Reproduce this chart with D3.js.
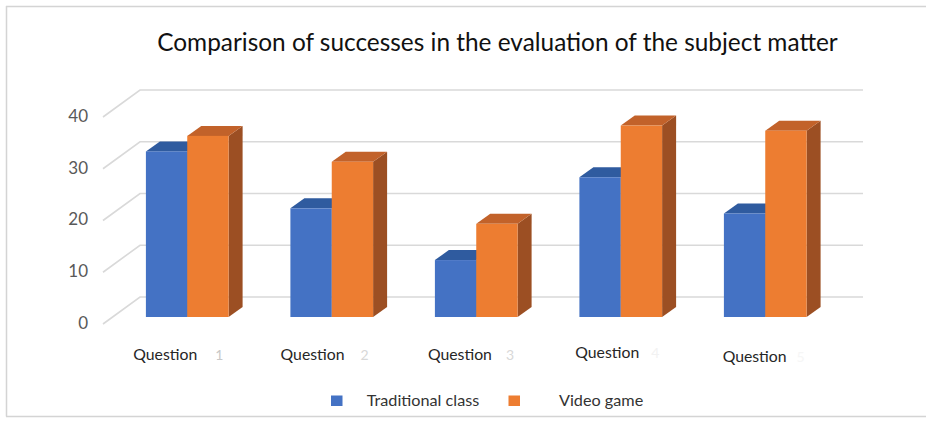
<!DOCTYPE html>
<html>
<head>
<meta charset="utf-8">
<script src="https://cdn.jsdelivr.net/npm/d3@7"></script>
<style>
  html, body { margin: 0; padding: 0; background: #fff; }
  svg { display: block; }
  text { font-family: Lato, "Open Sans", sans-serif; }
</style>
</head>
<body>
<script>
// ---- data ----
const categories = ["Question 1", "Question 2", "Question 3", "Question 4", "Question 5"];
const seriesNames = ["Traditional class", "Video game"];
const traditionalClass = [32, 21, 11, 27, 20];
const videoGame = [35, 30, 18, 37, 36];
const tickValues = [0, 10, 20, 30, 40];
const titleText = "Comparison of successes in the evaluation of the subject matter";

const W = 926, H = 429;
const svg = d3.select("body").append("svg").attr("width", W).attr("height", H);

// frame
const frameCol = "#d4d4d4";
svg.append("line").attr("x1", 6).attr("x2", W).attr("y1", 6.5).attr("y2", 6.5).attr("stroke", frameCol).attr("stroke-width", 1.5);
svg.append("line").attr("x1", 6.5).attr("x2", 6.5).attr("y1", 6).attr("y2", 416.5).attr("stroke", frameCol).attr("stroke-width", 1.5);
svg.append("line").attr("x1", 6).attr("x2", W).attr("y1", 416.5).attr("y2", 416.5).attr("stroke", frameCol).attr("stroke-width", 1.5);

function fitWidth(sel, target) {
  const fs = parseFloat(sel.attr("font-size"));
  const w = sel.node().getComputedTextLength();
  if (w > 0) sel.attr("font-size", fs * target / w);
}

// title
const title = svg.append("text").attr("x", 497.5).attr("y", 51).attr("text-anchor", "middle")
  .attr("font-size", 24).attr("fill", "#111").text(titleText);
fitWidth(title, 681);

// scales
const yBack = d3.scaleLinear().domain([0, 40]).range([297, 90]);   // back wall
const yFront = d3.scaleLinear().domain([0, 40]).range([317, 110]); // bar front faces
const yLabel = d3.scaleLinear().domain([0, 40]).range([323, 116]); // front edge of floor
const wallDx = 37, wallDy = -27;
const barDx = 14, barDy = -10;
const wallX0 = 140, wallX1 = 863;

const xGroup = d3.scaleBand().domain(categories).range([115, 837.5]).padding(0);
const pairW = 82.7;
const xSub = d3.scaleBand().domain(seriesNames).range([0, pairW]).padding(0);

// gridlines (back wall + left wall diagonals)
const grid = svg.append("g").attr("stroke", "#d9d9d9").attr("stroke-width", 1.6).attr("fill", "none");
tickValues.forEach(v => {
  const yb = yBack(v);
  grid.append("path").attr("d", `M${wallX0 - wallDx},${yb - wallDy} L${wallX0},${yb} L${wallX1},${yb}`);
});

// y-axis labels
const yAxis = d3.axisLeft(yLabel).tickValues(tickValues).tickSize(0).tickPadding(0);
const ag = svg.append("g").attr("transform", "translate(88,0)").call(yAxis);
ag.select(".domain").remove();
ag.selectAll("text").attr("font-size", 17).attr("fill", "#595959")
  .attr("font-family", "Lato, 'Open Sans', sans-serif");

// bars
const colors = {
  "Traditional class": { front: "#4472c4", top: "#2f5b9f", side: "#2f528f" },
  "Video game": { front: "#ed7d31", top: "#c2622a", side: "#9c4f23" }
};
const valuesBySeries = { "Traditional class": traditionalClass, "Video game": videoGame };

const barsG = svg.append("g");
categories.forEach((c, i) => {
  seriesNames.forEach(s => {
    const v = valuesBySeries[s][i];
    const x0 = xGroup(c) + (xGroup.bandwidth() - pairW) / 2 + xSub(s);
    const x1 = x0 + xSub.bandwidth();
    const yt = yFront(v), yb = yFront(0);
    const col = colors[s];
    // side
    barsG.append("path").attr("fill", col.side)
      .attr("d", `M${x1},${yt} L${x1 + barDx},${yt + barDy} L${x1 + barDx},${yb + barDy} L${x1},${yb} Z`);
    // top
    barsG.append("path").attr("fill", col.top)
      .attr("d", `M${x0},${yt} L${x0 + barDx},${yt + barDy} L${x1 + barDx},${yt + barDy} L${x1},${yt} Z`);
    // front
    barsG.append("rect").attr("fill", col.front)
      .attr("x", x0).attr("y", yt).attr("width", x1 - x0).attr("height", yb - yt);
  });
});

// category labels (the digit is faint in the original)
const labelDigitCol = ["#c8c8c8", "#d8d8d8", "#d8d8d8", "#f2f2f2", "#f6f6f6"];
const labelYOff = [0, 0, 0, -2, 2];
categories.forEach((c, i) => {
  const center = xGroup(c) + xGroup.bandwidth() / 2;
  const parts = c.split(" ");
  const t = svg.append("text")
    .attr("x", center - 54 + 2.85 * i)
    .attr("y", 360 + labelYOff[i])
    .attr("font-size", 16).attr("fill", "#262626");
  const q = t.append("tspan").text(parts[0]);
  t.append("tspan").attr("dx", 18 - 2 * i).attr("fill", labelDigitCol[i]).attr("font-size", 14).text(parts[1]);
  // fit the word "Question" to ~64px
  const w = q.node().getComputedTextLength();
  t.attr("font-size", 16 * 64 / w);
});

// legend
const legend = svg.append("g");
const legendItems = [
  { name: seriesNames[0], sx: 331, tx: 366.7, tw: 112.6 },
  { name: seriesNames[1], sx: 508.5, tx: 559, tw: 84.3 }
];
legendItems.forEach(d => {
  legend.append("rect").attr("x", d.sx).attr("y", 395.5).attr("width", 11.5).attr("height", 10.5)
    .attr("fill", colors[d.name].front);
  const t = legend.append("text").attr("x", d.tx).attr("y", 406).attr("font-size", 16)
    .attr("fill", "#333").text(d.name);
  fitWidth(t, d.tw);
});
</script>
</body>
</html>
